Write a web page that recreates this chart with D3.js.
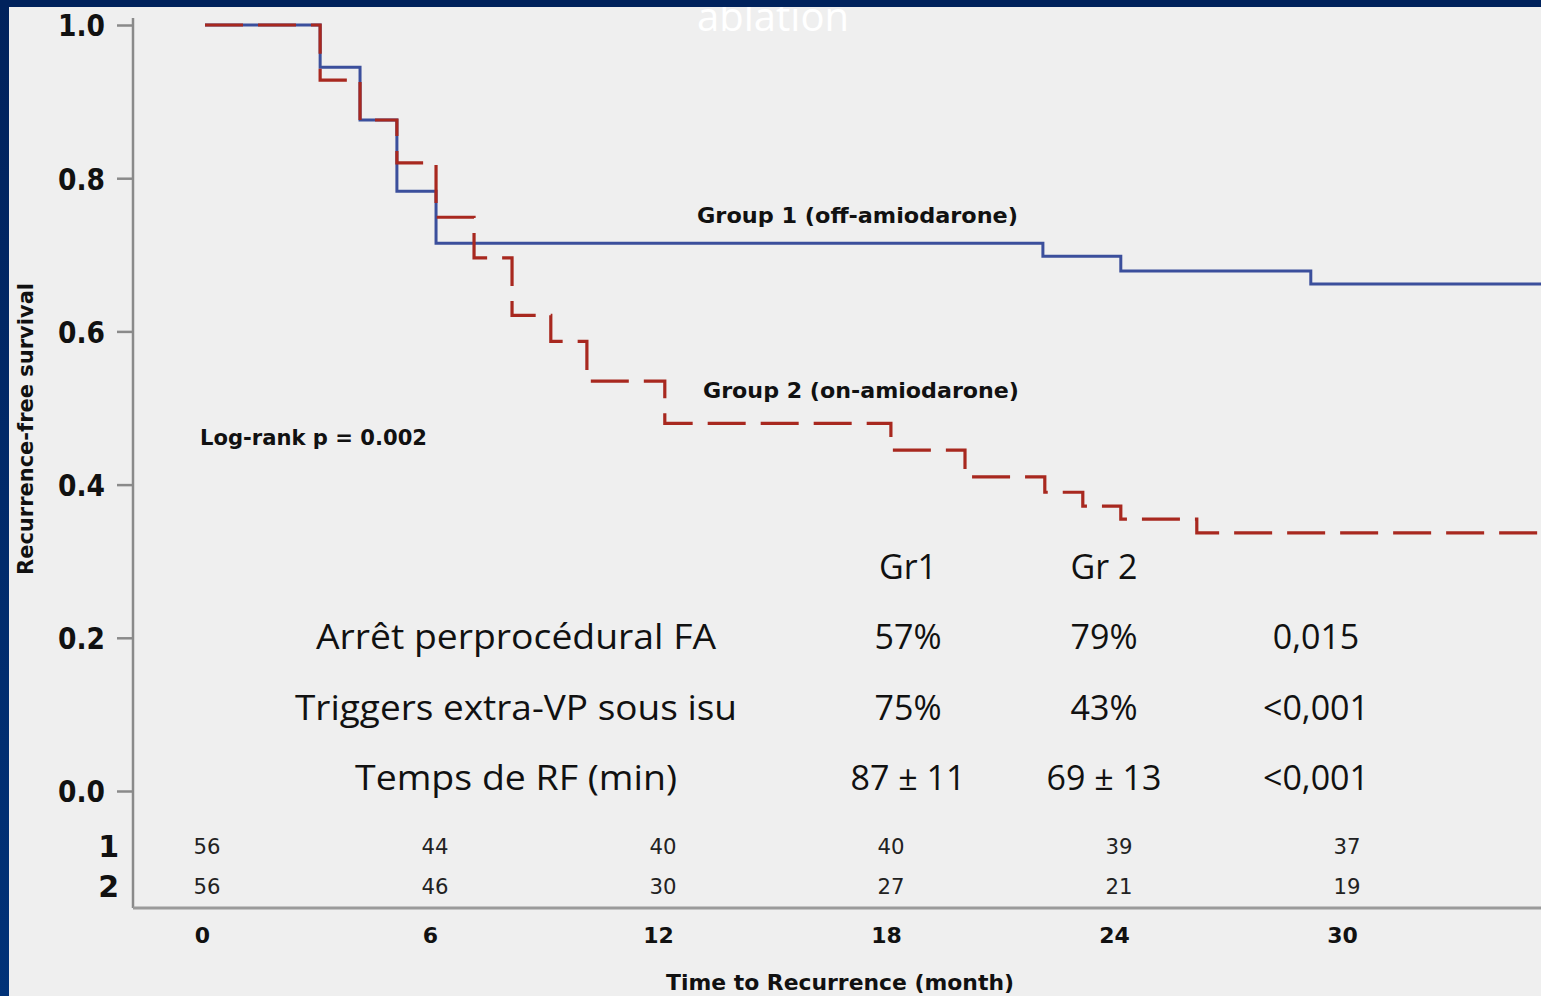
<!DOCTYPE html>
<html>
<head>
<meta charset="utf-8">
<script src="https://cdn.jsdelivr.net/npm/d3@7"></script>
<style>
  html, body { margin: 0; padding: 0; background: #002462; overflow: hidden; }
  svg { display: block; }
</style>
</head>
<body>
<svg id="chart" width="1541" height="996"></svg>
<script>
// Kaplan–Meier step data: time of each drop (months) and survival after it
const group1Times  = [0, 3.03, 4.08, 5.05, 6.08, 22.05, 24.1, 29.1];
const group1Values = [1.0, 0.945, 0.876, 0.783, 0.715, 0.698, 0.679, 0.662];
const group2Times  = [0, 3.03, 4.08, 5.05, 6.08, 7.08, 8.08, 9.1, 10.05, 12.1, 18.05, 20.0, 22.1, 23.1, 24.1, 26.1];
const group2Values = [1.0, 0.928, 0.876, 0.820, 0.749, 0.696, 0.621, 0.587, 0.535, 0.480, 0.445, 0.410, 0.390, 0.372, 0.355, 0.337];

// Axis ticks
const xTicks = [0, 6, 12, 18, 24, 30];
const yTicks = [0, 0.2, 0.4, 0.6, 0.8, 1.0];

// Number at risk
const riskGroups = ["1", "2"];
const riskGroup1 = [56, 44, 40, 40, 39, 37];
const riskGroup2 = [56, 46, 30, 27, 21, 19];

// Comparison table
const tableHeader = ["Gr1", "Gr 2"];
const tableRows   = ["Arrêt perprocédural FA", "Triggers extra-VP sous isu", "Temps de RF (min)"];
const tableGr1    = ["57%", "75%", "87 ± 11"];
const tableGr2    = ["79%", "43%", "69 ± 13"];
const tablePvals  = ["0,015", "<0,001", "<0,001"];

const svg = d3.select("#chart");
const W = 1541, H = 996;

// slide frame and panel
const defs = svg.append("defs");
const grad = defs.append("linearGradient").attr("id", "leftBar")
  .attr("x1", 0).attr("y1", 0).attr("x2", 0).attr("y2", 1);
grad.append("stop").attr("offset", "0%").attr("stop-color", "#00225c");
grad.append("stop").attr("offset", "100%").attr("stop-color", "#003278");

svg.append("rect").attr("width", W).attr("height", H).attr("fill", "url(#leftBar)");
svg.append("rect").attr("x", 9).attr("y", 7).attr("width", W - 9).attr("height", H - 7).attr("fill", "#efefef");

const x = d3.scaleLinear().domain([0, 30]).range([205, 1345]);
const y = d3.scaleLinear().domain([0, 1]).range([791, 25]);

const axisColor = "#8a8a8a";
const sans = "'DejaVu Sans', 'Liberation Sans', sans-serif";
const body = "'Open Sans', 'Noto Sans', sans-serif";

// Y axis
const yAxis = svg.append("g").attr("transform", "translate(133,0)")
  .call(d3.axisLeft(y).tickValues(yTicks).tickFormat(d3.format(".1f")).tickSize(16).tickPadding(12));
yAxis.select(".domain").remove();
yAxis.selectAll(".tick line").attr("stroke", axisColor).attr("stroke-width", 2.5);
yAxis.selectAll(".tick text")
  .attr("font-family", sans).attr("font-weight", "bold").attr("font-size", 30)
  .attr("fill", "#111").attr("dy", "0.36em")
  .attr("textLength", 47).attr("lengthAdjust", "spacingAndGlyphs");

svg.append("line").attr("x1", 133).attr("x2", 133).attr("y1", 18).attr("y2", 908)
  .attr("stroke", axisColor).attr("stroke-width", 2.5);

// X axis line below the at-risk table
svg.append("line").attr("x1", 133).attr("x2", W).attr("y1", 908).attr("y2", 908)
  .attr("stroke", "#9a9a9a").attr("stroke-width", 3);

const xAxis = svg.append("g").attr("transform", "translate(0,908)")
  .call(d3.axisBottom(x).tickValues(xTicks).tickSize(0).tickPadding(19));
xAxis.select(".domain").remove();
xAxis.selectAll(".tick text")
  .attr("font-family", sans).attr("font-weight", "bold").attr("font-size", 22)
  .attr("fill", "#111").attr("dx", -3);

svg.append("text").attr("x", 840).attr("y", 990).attr("text-anchor", "middle")
  .attr("font-family", sans).attr("font-weight", "bold").attr("font-size", 22)
  .attr("fill", "#111").attr("textLength", 348).attr("lengthAdjust", "spacingAndGlyphs")
  .text("Time to Recurrence (month)");

svg.append("text").attr("transform", "translate(33,429) rotate(-90)")
  .attr("text-anchor", "middle").attr("font-family", sans).attr("font-weight", "bold")
  .attr("font-size", 21).attr("fill", "#111")
  .attr("textLength", 292).attr("lengthAdjust", "spacingAndGlyphs")
  .text("Recurrence-free survival");

// Number at risk rows
const riskRows = [riskGroup1, riskGroup2];
const riskY = d3.scalePoint().domain(riskGroups).range([846, 886]);
riskGroups.forEach((g, i) => {
  svg.append("text").attr("x", 119).attr("y", riskY(g)).attr("dy", "0.36em")
    .attr("text-anchor", "end").attr("font-family", sans).attr("font-weight", "bold")
    .attr("font-size", 30).attr("fill", "#111").text(g);
  svg.append("g").selectAll("text").data(riskRows[i]).join("text")
    .attr("x", (d, j) => x(xTicks[j]) + 2).attr("y", riskY(g)).attr("dy", "0.36em")
    .attr("text-anchor", "middle").attr("font-family", sans).attr("font-size", 21)
    .attr("fill", "#222").attr("textLength", 27).attr("lengthAdjust", "spacingAndGlyphs")
    .text(d => d);
});

// Survival curves
const step = d3.line().x(d => x(d[0])).y(d => y(d[1])).curve(d3.curveStepAfter);
const xEnd = x.invert(W);
const g1 = group1Times.map((t, i) => [t, group1Values[i]]);
g1.push([xEnd, group1Values[group1Values.length - 1]]);
const g2 = group2Times.map((t, i) => [t, group2Values[i]]);
g2.push([xEnd, group2Values[group2Values.length - 1]]);

svg.append("path").attr("d", step(g1)).attr("fill", "none")
  .attr("stroke", "#3b4f9c").attr("stroke-width", 3);
svg.append("path").attr("d", step(g2)).attr("fill", "none")
  .attr("stroke", "#a8281f").attr("stroke-width", 3.2)
  .attr("stroke-dasharray", "38,15");

// Curve labels
const note = (txt, xx, yy, len) => svg.append("text").attr("x", xx).attr("y", yy)
  .attr("dy", "0.36em").attr("font-family", sans).attr("font-weight", "bold")
  .attr("font-size", 22).attr("fill", "#111")
  .attr("textLength", len).attr("lengthAdjust", "spacingAndGlyphs").text(txt);
note("Group 1 (off-amiodarone)", 697, 215, 321);
note("Group 2 (on-amiodarone)", 703, 390, 316);
note("Log-rank p = 0.002", 200, 437, 227);

// Comparison table
const colX = [908, 1104, 1316];
const rowY = d3.scalePoint().domain(tableRows).range([637, 778]);
const cell = (txt, xx, yy) => svg.append("text").attr("x", xx).attr("y", yy)
  .attr("dy", "0.36em").attr("text-anchor", "middle").attr("font-family", body)
  .attr("font-size", 34).attr("fill", "#111").text(txt);
tableHeader.forEach((h, i) => cell(h, colX[i], 567));
const rowWidths = [400, 442, 322];
tableRows.forEach((r, i) => {
  cell(r, 516, rowY(r)).attr("textLength", rowWidths[i]).attr("lengthAdjust", "spacingAndGlyphs");
  cell(tableGr1[i], colX[0], rowY(r));
  cell(tableGr2[i], colX[1], rowY(r));
  cell(tablePvals[i], colX[2], rowY(r));
});

// Slide title peeking under the top bar
svg.append("text").attr("x", 773).attr("y", 31).attr("text-anchor", "middle")
  .attr("font-family", body).attr("font-size", 40).attr("fill", "#ffffff")
  .text("ablation");
svg.append("rect").attr("x", 0).attr("y", 0).attr("width", W).attr("height", 7).attr("fill", "#00225c");
</script>
</body>
</html>
